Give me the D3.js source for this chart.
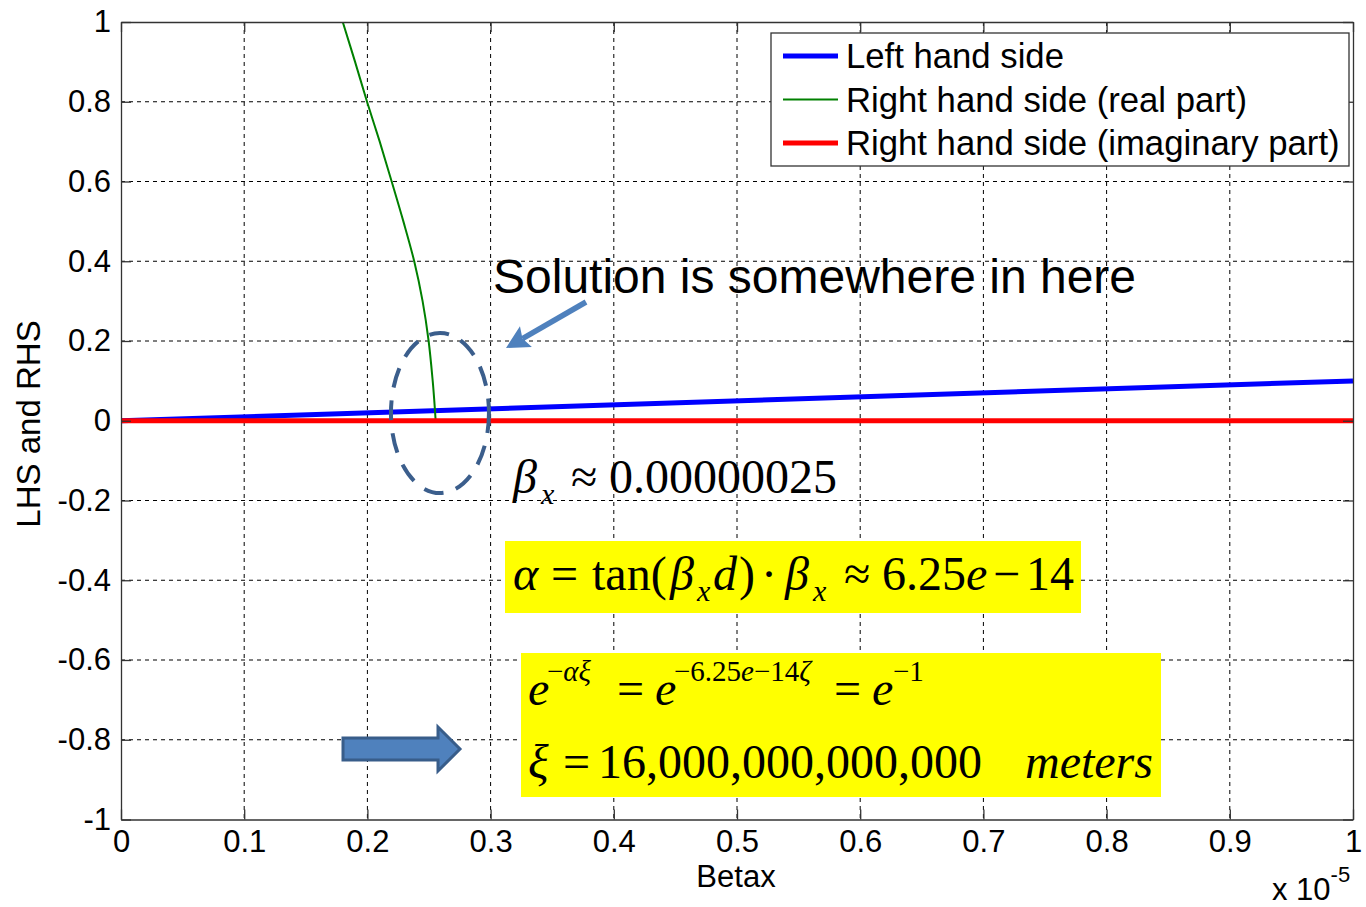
<!DOCTYPE html>
<html>
<head>
<meta charset="utf-8">
<script src="https://cdn.jsdelivr.net/npm/d3@7"></script>
<style>
  html, body { margin: 0; padding: 0; background: #fff; }
  svg { display: block; }
</style>
</head>
<body>
<svg id="chart" width="1366" height="907"></svg>
<script>
// ---- data (Betax in units of 1e-5) ----
const xTicks = [0, 0.1, 0.2, 0.3, 0.4, 0.5, 0.6, 0.7, 0.8, 0.9, 1];
const xTickLabels = ["0", "0.1", "0.2", "0.3", "0.4", "0.5", "0.6", "0.7", "0.8", "0.9", "1"];
const yTicks = [-1, -0.8, -0.6, -0.4, -0.2, 0, 0.2, 0.4, 0.6, 0.8, 1];
const yTickLabels = ["-1", "-0.8", "-0.6", "-0.4", "-0.2", "0", "0.2", "0.4", "0.6", "0.8", "1"];

const lhsBetax = [0, 1];
const lhsValues = [0, 0.1];

const rhsRealBetax = [0.1800, 0.1900, 0.1997, 0.2100, 0.2197, 0.2292, 0.2380, 0.2448, 0.2497, 0.2530, 0.2543, 0.2554];
const rhsRealValues = [1.0, 0.9, 0.8, 0.7, 0.6, 0.5, 0.4, 0.3, 0.2, 0.1, 0.05, 0.0];

const rhsImagBetax = [0, 1];
const rhsImagValues = [0, 0];

const seriesNames = ["Left hand side", "Right hand side (real part)", "Right hand side (imaginary part)"];
const seriesColors = ["#0000ff", "#008000", "#ff0000"];
const seriesWidths = [5, 2, 5];

// ---- layout ----
const sans = "'Liberation Sans', Arial, Helvetica, sans-serif";
const serif = "'Liberation Serif', 'Times New Roman', Times, serif";
const plotLeft = 121, plotRight = 1353, plotTop = 22, plotBottom = 819.5;

const svg = d3.select("#chart");
svg.append("rect").attr("width", 1366).attr("height", 907).attr("fill", "#fff");

const x = d3.scaleLinear().domain([0, 1]).range([plotLeft, plotRight]);
const y = d3.scaleLinear().domain([-1, 1]).range([plotBottom, plotTop]);

// ---- dotted grid ----
const grid = svg.append("g").attr("stroke", "#000").attr("stroke-width", 1)
  .attr("stroke-dasharray", "4,4").attr("fill", "none");
xTicks.slice(1, -1).forEach(d => {
  grid.append("line").attr("x1", x(d)).attr("x2", x(d)).attr("y1", plotTop).attr("y2", plotBottom);
});
yTicks.slice(1, -1).forEach(d => {
  grid.append("line").attr("x1", plotLeft).attr("x2", plotRight).attr("y1", y(d)).attr("y2", y(d));
});

// ---- series ----
svg.append("clipPath").attr("id", "plotClip")
  .append("rect").attr("x", plotLeft).attr("y", plotTop)
  .attr("width", plotRight - plotLeft).attr("height", plotBottom - plotTop);
const plot = svg.append("g").attr("clip-path", "url(#plotClip)");

const series = [
  { xs: lhsBetax, ys: lhsValues },
  { xs: rhsRealBetax, ys: rhsRealValues },
  { xs: rhsImagBetax, ys: rhsImagValues }
];
const line = d3.line().x(d => x(d[0])).y(d => y(d[1])).curve(d3.curveCatmullRom.alpha(0.5));
series.forEach((s, i) => {
  const pts = s.xs.map((v, k) => [v, s.ys[k]]);
  plot.append("path").attr("d", line(pts)).attr("fill", "none")
    .attr("stroke", seriesColors[i]).attr("stroke-width", seriesWidths[i])
    .attr("stroke-linejoin", "round");
});

// ---- axes (ticks point inward) ----
function styleAxis(g) {
  g.selectAll("path.domain").attr("stroke", "#333").attr("stroke-width", 1.3);
  g.selectAll(".tick line").attr("stroke", "#333").attr("stroke-width", 1.3);
  g.selectAll(".tick text").attr("fill", "#000").style("font-family", sans).style("font-size", "31px");
}
const xAxis = d3.axisBottom(x).tickValues(xTicks).tickFormat((d, i) => xTickLabels[i])
  .tickSizeInner(-10).tickSizeOuter(0).tickPadding(10);
svg.append("g").attr("transform", `translate(0,${plotBottom})`).call(xAxis).call(styleAxis);

const yAxis = d3.axisLeft(y).tickValues(yTicks).tickFormat((d, i) => yTickLabels[i])
  .tickSizeInner(-10).tickSizeOuter(0).tickPadding(10);
svg.append("g").attr("transform", `translate(${plotLeft},0)`).call(yAxis).call(styleAxis);

const xTop = d3.axisTop(x).tickValues(xTicks).tickFormat("").tickSizeInner(-10).tickSizeOuter(0);
svg.append("g").attr("transform", `translate(0,${plotTop})`).call(xTop).call(styleAxis);
const yRight = d3.axisRight(y).tickValues(yTicks).tickFormat("").tickSizeInner(-10).tickSizeOuter(0);
svg.append("g").attr("transform", `translate(${plotRight},0)`).call(yRight).call(styleAxis);

// axis labels
svg.append("text").attr("x", 736).attr("y", 887).attr("text-anchor", "middle")
  .style("font-family", sans).style("font-size", "31px").text("Betax");
svg.append("text").attr("transform", "translate(40,424) rotate(-90)").attr("text-anchor", "middle")
  .style("font-family", sans).style("font-size", "33px").text("LHS and RHS");

// exponent multiplier
const expo = svg.append("text").attr("x", 1272).attr("y", 900)
  .style("font-family", sans).style("font-size", "31px");
expo.append("tspan").text("x 10");
expo.append("tspan").attr("dy", -18).style("font-size", "22px").text("-5");

// ---- legend ----
const lg = svg.append("g");
lg.append("rect").attr("x", 771).attr("y", 33).attr("width", 578).attr("height", 133)
  .attr("fill", "#fff").attr("stroke", "#333").attr("stroke-width", 1.3);
seriesNames.forEach((name, i) => {
  const cy = 56 + i * 43.5;
  lg.append("line").attr("x1", 783).attr("x2", 838).attr("y1", cy).attr("y2", cy)
    .attr("stroke", seriesColors[i]).attr("stroke-width", seriesWidths[i]);
  lg.append("text").attr("x", 846).attr("y", cy).attr("dy", "0.35em")
    .style("font-family", sans).style("font-size", "34.7px").text(name);
});

// ---- annotations ----
const note = svg.append("g");

// dashed ellipse around the crossing
note.append("ellipse").attr("cx", x(0.2589)).attr("cy", y(0.0193)).attr("rx", 49).attr("ry", 80)
  .attr("fill", "none").attr("stroke", "#3b5e8c").attr("stroke-width", 4)
  .attr("stroke-dasharray", "20,13");

// thin arrow pointing at the ellipse
(function () {
  const x0 = 586, y0 = 302, x1 = 506, y1 = 348;
  const dx = x1 - x0, dy = y1 - y0, L = Math.hypot(dx, dy);
  const ux = dx / L, uy = dy / L, nx = -uy, ny = ux;
  const hl = 23, hw = 12;
  const bx = x1 - hl * ux, by = y1 - hl * uy;
  note.append("line").attr("x1", x0).attr("y1", y0).attr("x2", bx + 4 * ux).attr("y2", by + 4 * uy)
    .attr("stroke", "#4f81bd").attr("stroke-width", 5.5);
  note.append("path")
    .attr("d", `M${x1},${y1}L${bx + hw * nx},${by + hw * ny}L${bx + 4 * ux},${by + 4 * uy}L${bx - hw * nx},${by - hw * ny}Z`)
    .attr("fill", "#4f81bd");
})();

note.append("text").attr("x", 493).attr("y", 293)
  .style("font-family", sans).style("font-size", "48px").text("Solution is somewhere in here");

// block arrow
note.append("path")
  .attr("d", "M343,738 L438,738 L438,727 L460,749 L438,771 L438,760 L343,760 Z")
  .attr("fill", "#4f81bd").attr("stroke", "#385d8a").attr("stroke-width", 3)
  .attr("stroke-linejoin", "miter");

// math formulas: a piece with x is placed there, a piece without x follows the previous one
function mathLine(g, baseY, size, pieces) {
  const t = g.append("text").attr("y", baseY)
    .style("font-family", serif).style("font-size", size + "px").attr("fill", "#000");
  pieces.forEach(p => {
    const ts = t.append("tspan").attr("y", baseY + (p.shift || 0)).text(p.t);
    if (p.x !== undefined) ts.attr("x", p.x);
    if (p.i) ts.style("font-style", "italic");
    if (p.s) ts.style("font-size", p.s + "px");
  });
  return t;
}

mathLine(note, 493, 48, [
  { x: 513, t: "\u03b2", i: true },
  { x: 541, t: "x", i: true, s: 30, shift: 11 },
  { x: 571, t: "\u2248" },
  { x: 609, t: "0.00000025" }
]);

note.append("rect").attr("x", 505).attr("y", 541).attr("width", 576).attr("height", 72).attr("fill", "#ffff00");
mathLine(note, 590, 48, [
  { x: 513, t: "\u03b1", i: true },
  { x: 551, t: "=" },
  { x: 592, t: "tan(" },
  { x: 670, t: "\u03b2", i: true },
  { x: 697, t: "x", i: true, s: 30, shift: 11 },
  { x: 713, t: "d", i: true },
  { x: 739, t: ")" },
  { x: 761, t: "\u00b7" },
  { x: 785, t: "\u03b2", i: true },
  { x: 813, t: "x", i: true, s: 30, shift: 11 },
  { x: 844, t: "\u2248" },
  { x: 882, t: "6.25" },
  { x: 966, t: "e", i: true },
  { x: 993, t: "\u2212" },
  { x: 1026, t: "14" }
]);

note.append("rect").attr("x", 521).attr("y", 653).attr("width", 640).attr("height", 144).attr("fill", "#ffff00");
mathLine(note, 705, 48, [
  { x: 528, t: "e", i: true },
  { x: 547, t: "\u2212", s: 29, shift: -24 },
  { t: "\u03b1\u03be", i: true, s: 29, shift: -24 },
  { x: 617, t: "=" },
  { x: 655, t: "e", i: true },
  { x: 674, t: "\u22126.25", s: 29, shift: -24 },
  { t: "e", i: true, s: 29, shift: -24 },
  { t: "\u221214", s: 29, shift: -24 },
  { t: "\u03b6", i: true, s: 29, shift: -24 },
  { x: 834, t: "=" },
  { x: 872, t: "e", i: true },
  { x: 893, t: "\u22121", s: 29, shift: -24 }
]);
mathLine(note, 778, 48, [
  { x: 528, t: "\u03be", i: true },
  { x: 563, t: "=" },
  { x: 598, t: "16,000,000,000,000" },
  { x: 1025, t: "meters", i: true }
]);
</script>
</body>
</html>
